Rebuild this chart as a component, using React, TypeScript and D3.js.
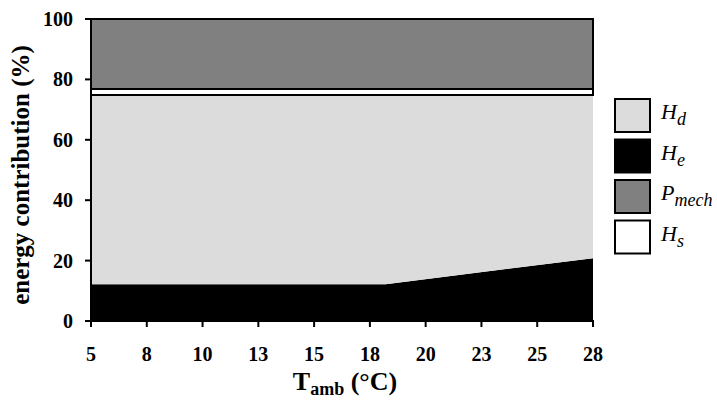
import React from "react";
import * as d3 from "d3";

const temps = [5, 18.5, 28];
const He = [12.2, 12.2, 20.8];
const HdTop = [74.8, 74.8, 74.8];
const HsTop = [76.8, 76.8, 76.8];
const total = [100, 100, 100];
const xTickLabels = ["5", "8", "10", "13", "15", "18", "20", "23", "25", "28"];
const yTicks = [0, 20, 40, 60, 80, 100];

const legendItems = [
  { main: "H", sub: "d", fill: "#dcdcdc" },
  { main: "H", sub: "e", fill: "#000000" },
  { main: "P", sub: "mech", fill: "#808080" },
  { main: "H", sub: "s", fill: "#ffffff" },
];

export default function App() {
  const W = 717, H = 400;
  const x = d3.scaleLinear().domain([5, 28]).range([91, 593]);
  const y = d3.scaleLinear().domain([0, 100]).range([321, 19]);
  const font = "'Liberation Serif', 'Times New Roman', serif";

  const rows = temps.map((t, i) => ({ t, he: He[i], hd: HdTop[i], hs: HsTop[i], tot: total[i] }));
  const area = (lo: (r: any) => number, hi: (r: any) => number) =>
    d3.area<any>().x((r) => x(r.t)).y0((r) => y(lo(r))).y1((r) => y(hi(r)))(rows) || "";

  const tickVals = d3.range(xTickLabels.length).map((i) => 5 + (i * 23) / (xTickLabels.length - 1));

  return (
    <svg width={W} height={H} style={{ position: "absolute", left: 0, top: 0 }} fontFamily={font}>
      <path d={area(() => 0, (r) => r.he)} fill="#000" />
      <path d={area((r) => r.he, (r) => r.hd)} fill="#dcdcdc" />
      <path d={area((r) => r.hd, (r) => r.hs)} fill="#fff" stroke="#000" strokeWidth={2} />
      <path d={area((r) => r.hs, (r) => r.tot)} fill="#808080" stroke="#000" strokeWidth={2} />
      {/* axes */}
      <line x1={91} x2={91} y1={y(100)} y2={y(0)} stroke="#000" strokeWidth={2} />
      <line x1={90} x2={594} y1={y(0)} y2={y(0)} stroke="#000" strokeWidth={2} />
      {yTicks.map((v) => (
        <g key={v}>
          <line x1={85} x2={91} y1={y(v)} y2={y(v)} stroke="#000" strokeWidth={2} />
          <text x={73} y={y(v)} dy="0.35em" textAnchor="end" fontSize={20} fontWeight="bold">
            {v}
          </text>
        </g>
      ))}
      {tickVals.map((v, i) => (
        <g key={i}>
          <line x1={x(v)} x2={x(v)} y1={y(0)} y2={y(0) + 6} stroke="#000" strokeWidth={2} />
          <text x={x(v)} y={361} textAnchor="middle" fontSize={20} fontWeight="bold">
            {xTickLabels[i]}
          </text>
        </g>
      ))}
      <text
        transform={`translate(29,175) rotate(-90)`}
        textAnchor="middle"
        fontSize={25}
        fontWeight="bold"
      >
        energy contribution (%)
      </text>
      <text x={345} y={390} textAnchor="middle" fontSize={26} fontWeight="bold">
        T<tspan fontSize={18} dy={5}>amb</tspan>
        <tspan dy={-5}> (°C)</tspan>
      </text>
      {legendItems.map((d, i) => (
        <g key={i} transform={`translate(615,${99 + i * 40.5})`}>
          <rect width={35} height={33} fill={d.fill} stroke="#000" strokeWidth={2} />
          <text x={46} y={20} fontSize={22} fontStyle="italic">
            {d.main}
            <tspan fontSize={18} dy={6}>{d.sub}</tspan>
          </text>
        </g>
      ))}
    </svg>
  );
}
